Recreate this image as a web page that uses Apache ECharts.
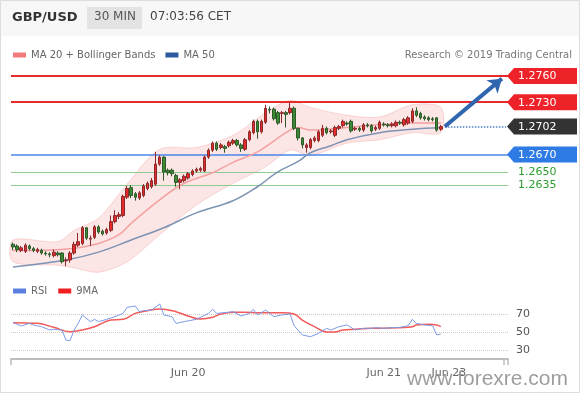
<!DOCTYPE html>
<html><head><meta charset="utf-8">
<script src="https://cdn.jsdelivr.net/npm/echarts@6/dist/echarts.min.js"></script>
<style>html,body{margin:0;padding:0;background:#fff}#c{width:580px;height:393px}</style>
</head><body><div id="c"></div>
<script>
// ---- data ----
const candleOpen = [1.2567,1.2565,1.2560,1.2559,1.2565,1.2562,1.2559,1.2560,1.2557,1.2556,
1.2554,1.2557,1.2557,1.2548,1.2549,1.2557,1.2566,1.2568,1.2586,1.2573,
1.2575,1.2587,1.2582,1.2580,1.2583,1.2593,1.2599,1.2600,1.2621,1.2632,
1.2625,1.2620,1.2623,1.2631,1.2633,1.2636,1.2659,1.2667,1.2652,1.2652,
1.2646,1.2638,1.2640,1.2643,1.2647,1.2651,1.2652,1.2651,1.2667,1.2675,
1.2683,1.2678,1.2679,1.2680,1.2683,1.2686,1.2681,1.2676,1.2687,1.2695,
1.2708,1.2696,1.2707,1.2722,1.2722,1.2718,1.2717,1.2718,1.2718,1.2723,
1.2700,1.2689,1.2678,1.2678,1.2686,1.2686,1.2692,1.2700,1.2696,1.2692,
1.2700,1.2703,1.2706,1.2708,1.2699,1.2700,1.2698,1.2704,1.2703,1.2699,
1.2700,1.2705,1.2704,1.2703,1.2703,1.2707,1.2704,1.2706,1.2708,1.2720,
1.2717,1.2713,1.2712,1.2711,1.2712,1.2699];
const candleClose = [1.2564,1.2561,1.2563,1.2566,1.2562,1.2560,1.2561,1.2557,1.2556,1.2555,
1.2558,1.2555,1.2547,1.2549,1.2557,1.2567,1.2570,1.2586,1.2574,1.2574,
1.2587,1.2581,1.2579,1.2584,1.2593,1.2600,1.2601,1.2622,1.2631,1.2623,
1.2621,1.2626,1.2634,1.2637,1.2640,1.2659,1.2667,1.2650,1.2649,1.2648,
1.2638,1.2641,1.2645,1.2648,1.2651,1.2653,1.2654,1.2667,1.2675,1.2683,
1.2676,1.2681,1.2677,1.2684,1.2686,1.2681,1.2677,1.2687,1.2696,1.2708,
1.2696,1.2708,1.2723,1.2721,1.2711,1.2706,1.2718,1.2716,1.2723,1.2700,
1.2689,1.2681,1.2681,1.2687,1.2689,1.2696,1.2700,1.2695,1.2697,1.2701,
1.2702,1.2708,1.2705,1.2697,1.2700,1.2698,1.2704,1.2703,1.2697,1.2701,
1.2707,1.2704,1.2703,1.2705,1.2707,1.2706,1.2710,1.2712,1.2720,1.2715,
1.2712,1.2711,1.2710,1.2710,1.2698,1.2702];
const candleLow = [1.2560,1.2558,1.2558,1.2557,1.2560,1.2558,1.2557,1.2555,1.2554,1.2552,
1.2552,1.2553,1.2545,1.2542,1.2546,1.2555,1.2564,1.2566,1.2572,1.2565,
1.2573,1.2579,1.2577,1.2578,1.2581,1.2591,1.2596,1.2598,1.2619,1.2620,
1.2617,1.2618,1.2621,1.2629,1.2631,1.2634,1.2657,1.2640,1.2646,1.2645,
1.2633,1.2630,1.2638,1.2641,1.2645,1.2649,1.2650,1.2650,1.2665,1.2673,
1.2674,1.2676,1.2672,1.2678,1.2681,1.2679,1.2673,1.2674,1.2685,1.2693,
1.2688,1.2694,1.2705,1.2717,1.2709,1.2704,1.2706,1.2701,1.2716,1.2698,
1.2686,1.2677,1.2672,1.2676,1.2684,1.2684,1.2690,1.2693,1.2694,1.2690,
1.2698,1.2701,1.2703,1.2695,1.2697,1.2696,1.2696,1.2701,1.2695,1.2697,
1.2698,1.2702,1.2701,1.2701,1.2701,1.2704,1.2702,1.2704,1.2706,1.2713,
1.2710,1.2709,1.2708,1.2708,1.2696,1.2697];
const candleHigh = [1.2569,1.2567,1.2565,1.2568,1.2567,1.2564,1.2563,1.2562,1.2559,1.2558,
1.2561,1.2559,1.2558,1.2552,1.2559,1.2570,1.2580,1.2588,1.2587,1.2577,
1.2589,1.2589,1.2584,1.2586,1.2600,1.2606,1.2604,1.2624,1.2634,1.2635,
1.2627,1.2628,1.2636,1.2639,1.2643,1.2673,1.2669,1.2668,1.2654,1.2654,
1.2648,1.2643,1.2647,1.2650,1.2653,1.2655,1.2656,1.2669,1.2677,1.2685,
1.2685,1.2683,1.2681,1.2686,1.2688,1.2688,1.2683,1.2689,1.2698,1.2710,
1.2710,1.2710,1.2727,1.2725,1.2724,1.2720,1.2720,1.2720,1.2729,1.2725,
1.2701,1.2690,1.2683,1.2689,1.2691,1.2698,1.2704,1.2702,1.2699,1.2703,
1.2704,1.2710,1.2708,1.2710,1.2702,1.2702,1.2706,1.2706,1.2705,1.2703,
1.2709,1.2707,1.2706,1.2707,1.2709,1.2709,1.2712,1.2714,1.2723,1.2724,
1.2719,1.2715,1.2714,1.2713,1.2713,1.2704];

const ma20Idx = [0,6,14,21,26,29,36,42,49,54,60,67,70,73,82,90,98,105];
const ma20Val = [1.2560,1.2560,1.2562,1.2568,1.2578,1.2591,1.2618,1.2637,1.2649,1.2661,1.2673,1.2695,1.2701,1.2698,1.2701,1.2704,1.2706,1.2706];

const ma50Idx = [0,13,21,29,37,45,54,60,65,70,73,78,82,90,98,105];
const ma50Val = [1.2541,1.2549,1.2558,1.2572,1.2586,1.2603,1.2617,1.2633,1.2650,1.2662,1.2672,1.2680,1.2687,1.2695,1.2699,1.2701];

const bandIdx = [0,11,15,21,28,36,45,54,62,68,73,82,90,98,105];
const bandUp  = [1.2572,1.2570,1.2583,1.2597,1.2636,1.2676,1.2678,1.2692,1.2718,1.2732,1.2724,1.2715,1.2713,1.2727,1.2724];
const bandLow = [1.2547,1.2543,1.2540,1.2535,1.2547,1.2578,1.2612,1.2637,1.2656,1.2675,1.2669,1.2683,1.2687,1.2695,1.2695];

const rsiIdx = [0,2,4,5,7,9,10,12,13,14,15,16,17,19,20,21,23,25,27,28,30,31,32,34,36,37,39,40,42,45,48,49,50,52,54,56,58,59,60,62,64,66,68,69,71,73,75,77,78,80,82,84,86,88,89,91,93,95,97,98,99,101,103,104,105];
const rsiVal = [60.4,56.7,59.6,57.8,55.9,52.2,53,52.2,41.1,40.4,52.2,59.6,68.9,61.5,64.1,61.5,64.1,67,70.7,77.4,78.9,72.6,73.7,74.4,81.1,68.9,67,59.6,61.5,64.1,70.7,75.2,70.7,71.5,72.6,67.8,70.7,75.2,68.9,74.4,67,68.9,70,57,46.7,44.8,48.5,54.1,52.2,55.9,57.8,52.2,54.1,54.1,54.8,54.1,54.8,55.2,57,64.1,59.6,57.8,57,46.7,47.8];

const ma9Idx = [0,6,10,14,17,20,24,27,30,33,36,40,43,46,49,51,54,57,60,66,69,71,74,77,79,81,84,88,91,95,98,99,102,104,105];
const ma9Val = [60.4,59.6,55.2,50.4,52.2,55.9,63.3,64.1,70.7,73.7,75.6,72.6,67.8,64.4,66.3,70,71.9,71.9,71.5,71.5,70,63.3,55.9,50,50,52.2,53,54.1,54.1,54.8,55.9,57.8,58.5,57.8,55.9];

const rsiLevels = [70, 50, 30];
const levelPrices = [1.2760, 1.2730, 1.2702, 1.2670, 1.2650, 1.2635];
const levelText = ['1.2760', '1.2730', '1.2702', '1.2670', '1.2650', '1.2635'];
const lastPrice = 1.2702;
const arrowFrom = [106, 1.2702];
const arrowTo = [120, 1.2757];

const tickIndex = [43, 91, 107];
const tickText = ['Jun 20', 'Jun 21', 'Jun 23'];
const categoryCount = 122;

// ---- styles (kept in code) ----
const FONT = '"DejaVu Sans", Verdana, sans-serif';
const levelStyle = [
  {line: '#e52b2b', width: 2, box: '#ee2229'},
  {line: '#e52b2b', width: 2, box: '#ee2229'},
  {line: null, width: 0, box: '#333333'},
  {line: '#4a86e8', width: 1.5, box: '#2f7be6'},
  {line: '#8fcb8f', width: 1, box: null, text: '#2e9b2e'},
  {line: '#8fcb8f', width: 1, box: null, text: '#2e9b2e'}
];

const categories = Array.from({length: categoryCount}, (_, i) => String(i));
const candleData = candleOpen.map((o, i) => [o, candleClose[i], candleLow[i], candleHigh[i]]);
const pairs = (idx, val) => idx.map((x, k) => [x, val[k]]);

const chart = echarts.init(document.getElementById('c'), null, {renderer: 'canvas'});

const levelLines = [];
levelPrices.forEach((p, k) => {
  if (levelStyle[k].line) levelLines.push({yAxis: p, lineStyle: {color: levelStyle[k].line, width: levelStyle[k].width, type: 'solid'}});
});

chart.setOption({
  animation: false,
  textStyle: {fontFamily: FONT},
  graphic: [
    {type: 'rect', z: -10, shape: {x: 0, y: 0, width: 580, height: 36}, style: {fill: '#f7f7f7'}},
    {type: 'rect', z: -10, shape: {x: 0.5, y: 0.5, width: 579, height: 392}, style: {fill: 'none', stroke: '#dddddd', lineWidth: 1}},
    {type: 'rect', z: -5, shape: {x: 87, y: 7, width: 55, height: 22}, style: {fill: '#e3e3e3'}},
    {type: 'text', left: 12, top: 11, style: {text: 'GBP/USD', font: 'bold 13px ' + FONT, fill: '#333'}},
    {type: 'text', left: 94, top: 11, style: {text: '30 MIN', font: '12px ' + FONT, fill: '#555'}},
    {type: 'text', left: 150, top: 11, style: {text: '07:03:56 CET', font: '12px ' + FONT, fill: '#444'}},
    {type: 'text', right: 8, top: 50, style: {text: 'Research \u00a9 2019 Trading Central', font: '10px ' + FONT, fill: '#777'}},
    {type: 'text', left: 407, top: 369, z: 100, style: {text: 'www.forexre.com', font: '21px "Liberation Sans", Arial, sans-serif', fill: 'rgba(140,140,140,0.85)'}}
  ],
  legend: [
    {left: 8, top: 45, itemWidth: 13, itemHeight: 5, itemGap: 10, icon: 'rect', selectedMode: false,
     textStyle: {color: '#666', fontSize: 10, fontFamily: FONT},
     data: [{name: 'MA 20 + Bollinger Bands', itemStyle: {color: '#f27b7b'}}, {name: 'MA 50', itemStyle: {color: '#2c5aa0'}}]},
    {left: 8, top: 281, itemWidth: 13, itemHeight: 5, itemGap: 11, icon: 'rect', selectedMode: false,
     textStyle: {color: '#666', fontSize: 10, fontFamily: FONT},
     data: [{name: 'RSI', itemStyle: {color: '#5b80e0'}}, {name: '9MA', itemStyle: {color: '#f02020'}}]}
  ],
  grid: [
    {left: 11, width: 497, top: 67.3, height: 204.9},
    {left: 11, width: 497, top: 296, height: 63}
  ],
  xAxis: [
    {type: 'category', gridIndex: 0, data: categories, boundaryGap: true, show: false},
    {type: 'category', gridIndex: 1, data: categories, boundaryGap: true,
     axisLine: {show: true, lineStyle: {color: '#bdbdbd', width: 2}},
     axisTick: {show: true, length: 6, lineStyle: {color: '#bdbdbd', width: 1.5},
       interval: function (i) { return i === 0 || i >= categoryCount - 1; }},
     axisLabel: {interval: 0, margin: 9, color: '#666', fontSize: 11, fontFamily: FONT,
       formatter: function (v, i) { const k = tickIndex.indexOf(i); return k >= 0 ? tickText[k] : ''; }},
     splitLine: {show: false}}
  ],
  yAxis: [
    {type: 'value', gridIndex: 0, min: 1.2535, max: 1.2770, show: false, splitLine: {show: false}},
    {type: 'value', gridIndex: 1, min: 20, max: 90, show: false, splitLine: {show: false}}
  ],
  series: [
    {
      type: 'custom', name: 'band', xAxisIndex: 0, yAxisIndex: 0, silent: true, z: 1,
      data: [[bandIdx[0], bandUp[0]]],
      renderItem: function (params, api) {
        const up = bandIdx.map((x, k) => api.coord([x, bandUp[k]]));
        const lo = bandIdx.map((x, k) => api.coord([x, bandLow[k]])).reverse();
        return {type: 'polygon', shape: {points: up.concat(lo), smooth: 0.3},
          style: {fill: 'rgba(246,170,170,0.30)', stroke: 'rgba(240,150,150,0.35)', lineWidth: 1}};
      }
    },
    {type: 'line', name: 'MA 20 + Bollinger Bands', xAxisIndex: 0, yAxisIndex: 0, data: pairs(ma20Idx, ma20Val),
     smooth: 0.4, showSymbol: false, silent: true, z: 2, lineStyle: {color: '#f3a1a1', width: 1.5}, itemStyle: {color: '#f27b7b'}},
    {type: 'line', name: 'MA 50', xAxisIndex: 0, yAxisIndex: 0, data: pairs(ma50Idx, ma50Val),
     smooth: 0.4, showSymbol: false, silent: true, z: 2, lineStyle: {color: '#7d93b3', width: 1.5}, itemStyle: {color: '#2c5aa0'}},
    {
      type: 'line', name: 'levelLines', xAxisIndex: 0, yAxisIndex: 0, data: [], silent: true, z: 2,
      markLine: {silent: true, symbol: 'none', precision: 4, label: {show: false}, z: 2, data: levelLines}
    },
    {
      type: 'line', name: 'lastDotted', xAxisIndex: 0, yAxisIndex: 0, data: [], silent: true, z: 2,
      markLine: {silent: true, symbol: 'none', precision: 4, label: {show: false}, z: 2,
        lineStyle: {color: '#4a7fc8', width: 1.5, type: 'dotted'},
        data: [[{coord: [arrowFrom[0], lastPrice]}, {coord: [categoryCount - 1, lastPrice]}]]}
    },
    {
      type: 'candlestick', name: 'GBP/USD', xAxisIndex: 0, yAxisIndex: 0, data: candleData, barWidth: 3, silent: true, z: 3,
      itemStyle: {color: '#e42a2a', color0: '#3c8a34', borderColor: '#8a2a2a', borderColor0: '#2e5a2a', borderWidth: 1}
    },
    {
      type: 'line', name: 'arrow', xAxisIndex: 0, yAxisIndex: 0, data: [], silent: true,
      markLine: {silent: true, symbol: ['none', 'arrow'], symbolSize: 13, precision: 4, label: {show: false}, z: 6,
        lineStyle: {color: '#2f66ad', width: 4, type: 'solid'},
        data: [[{coord: arrowFrom}, {coord: arrowTo}]]}
    },
    {
      type: 'custom', name: 'levels', xAxisIndex: 0, yAxisIndex: 0, clip: false, silent: true, z: 10,
      data: levelPrices.map((p, k) => [categoryCount - 1, p, k]),
      renderItem: function (params, api) {
        const k = api.value(2);
        const pt = api.coord([api.value(0), api.value(1)]);
        const x0 = pt[0] + api.size([1, 0])[0] / 2;
        const y = pt[1];
        const st = levelStyle[k];
        const children = [];
        if (st.box) {
          children.push({type: 'polygon', shape: {points: [[x0 - 1, y], [x0 + 6, y - 8], [x0 + 69, y - 8], [x0 + 69, y + 8], [x0 + 6, y + 8]]},
            style: {fill: st.box}});
        }
        children.push({type: 'text', style: {text: levelText[k], x: x0 + 10, y: y + 0.5, verticalAlign: 'middle', align: 'left',
          fill: st.box ? '#ffffff' : st.text, font: '11px ' + FONT}});
        return {type: 'group', children: children};
      }
    },
    {
      type: 'line', name: 'RSI', xAxisIndex: 1, yAxisIndex: 1, data: pairs(rsiIdx, rsiVal), showSymbol: false, silent: true, z: 3,
      lineStyle: {color: '#7b9be6', width: 1}, itemStyle: {color: '#5b80e0'},
      markLine: {silent: true, symbol: 'none', z: 1,
        lineStyle: {color: '#d6c8c8', width: 1, type: 'dotted'},
        label: {show: true, position: 'end', distance: 8, color: '#555', fontSize: 11, fontFamily: FONT, formatter: p => String(p.value)},
        data: rsiLevels.map(v => ({yAxis: v}))}
    },
    {
      type: 'line', name: '9MA', xAxisIndex: 1, yAxisIndex: 1, data: pairs(ma9Idx, ma9Val), smooth: 0.4, showSymbol: false, silent: true, z: 2,
      lineStyle: {color: 'rgba(240,60,60,0.85)', width: 1.5}, itemStyle: {color: '#f02020'}
    }
  ]
});
</script>
</body></html>
